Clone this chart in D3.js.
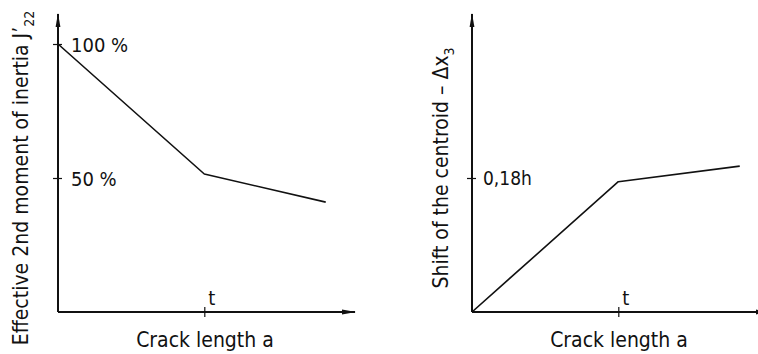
<!DOCTYPE html>
<html>
<head>
<meta charset="utf-8">
<script src="https://cdn.jsdelivr.net/npm/d3@7"></script>
<style>
  html, body { margin: 0; padding: 0; background: #fff; }
  svg text { font-family: "DejaVu Sans Condensed", "DejaVu Sans", sans-serif; fill: #111; }
</style>
</head>
<body>
<svg id="chart" width="758" height="354"></svg>
<script>
// Crack length in units of the wall thickness t
const crackLength = [0, 1, 1.83];
// Effective 2nd moment of inertia J'22 (% of uncracked value)
const inertiaPct = [100, 51.5, 41];
// Shift of the centroid -Δx3 (fraction of h)
const centroidShift = [0, 0.175, 0.196];

const xTicks = [1];
const xTickLabels = ["t"];
const inertiaTicks = [100, 50];
const inertiaTickLabels = ["100 %", "50 %"];
const shiftTicks = [0.18];
const shiftTickLabels = ["0,18h"];

const FONT = "\"DejaVu Sans Condensed\", \"DejaVu Sans\", sans-serif";
const svg = d3.select("#chart");

const defs = svg.append("defs");
defs.append("marker")
  .attr("id", "arrow")
  .attr("viewBox", "0 0 14 6")
  .attr("refX", 13).attr("refY", 3)
  .attr("markerWidth", 14).attr("markerHeight", 6)
  .attr("markerUnits", "userSpaceOnUse")
  .attr("orient", "auto")
  .append("path").attr("d", "M0,0.6 L14,3 L0,5.4 Z").attr("fill", "#111");

function panel(opt) {
  const g = svg.append("g");
  const x = d3.scaleLinear().domain([0, 2.03]).range([opt.x0, opt.x0 + 297]);
  const y = d3.scaleLinear().domain(opt.yDomain).range([312, 44]);

  // axis lines with arrowheads
  g.append("line")
    .attr("x1", opt.x0).attr("y1", 312).attr("x2", opt.x0).attr("y2", 14)
    .attr("stroke", "#111").attr("stroke-width", 2).attr("marker-end", "url(#arrow)");
  g.append("line")
    .attr("x1", opt.x0).attr("y1", 312).attr("x2", x(2.03)).attr("y2", 312)
    .attr("stroke", "#111").attr("stroke-width", 2).attr("marker-end", "url(#arrow)");

  // y ticks crossing the axis, labels to the right
  const yAxis = d3.axisRight(y).tickValues(opt.yTicks)
    .tickFormat((d, i) => opt.yTickLabels[i]).tickSize(5).tickPadding(opt.yPad);
  const ya = g.append("g").attr("transform", `translate(${opt.x0},0)`).call(yAxis);
  ya.select(".domain").remove();
  ya.selectAll(".tick line").attr("x1", -5).attr("x2", 4).attr("stroke", "#111").attr("stroke-width", 1.2);
  ya.selectAll(".tick text").attr("font-size", opt.yFont).attr("dy", "0.36em")
    .style("font-family", FONT).attr("fill", "#111");

  // x tick crossing the axis, label above-right
  const xAxis = d3.axisBottom(x).tickValues(xTicks)
    .tickFormat((d, i) => xTickLabels[i]).tickSize(5);
  const xa = g.append("g").attr("transform", "translate(0,312)").call(xAxis);
  xa.select(".domain").remove();
  xa.selectAll(".tick line").attr("y1", -5).attr("y2", 5).attr("stroke", "#111").attr("stroke-width", 1.2);
  xa.selectAll(".tick text").attr("font-size", 20).attr("y", -7).attr("dy", 0)
    .attr("x", 7).style("font-family", FONT).attr("fill", "#111");

  // data curve
  const line = d3.line().x((d, i) => x(crackLength[i])).y(d => y(d));
  g.append("path").datum(opt.values)
    .attr("d", line).attr("fill", "none")
    .attr("stroke", "#111").attr("stroke-width", 1.6).attr("stroke-linejoin", "round");

  // axis titles
  g.append("text")
    .attr("x", opt.xTitleX).attr("y", 347)
    .attr("text-anchor", "middle").attr("font-size", 21)
    .text("Crack length a");

  const yt = g.append("text")
    .attr("transform", `translate(${opt.yTitleX},${opt.yTitleY}) rotate(-90)`)
    .attr("text-anchor", "middle").attr("font-size", 21);
  yt.append("tspan").text(opt.yTitle);
  yt.append("tspan").attr("font-size", 14).attr("dy", 6).text(opt.yTitleSub);
}

panel({
  x0: 58, yDomain: [0, 100], values: inertiaPct,
  yTicks: inertiaTicks, yTickLabels: inertiaTickLabels, yPad: 8, yFont: 20,
  yTitle: "Effective 2nd moment of inertia J’", yTitleSub: "22",
  yTitleX: 28, yTitleY: 178, xTitleX: 205
});

panel({
  x0: 472, yDomain: [0, 0.36], values: centroidShift,
  yTicks: shiftTicks, yTickLabels: shiftTickLabels, yPad: 6, yFont: 19,
  yTitle: "Shift of the centroid – Δx", yTitleSub: "3",
  yTitleX: 448, yTitleY: 168, xTitleX: 619
});
</script>
</body>
</html>
